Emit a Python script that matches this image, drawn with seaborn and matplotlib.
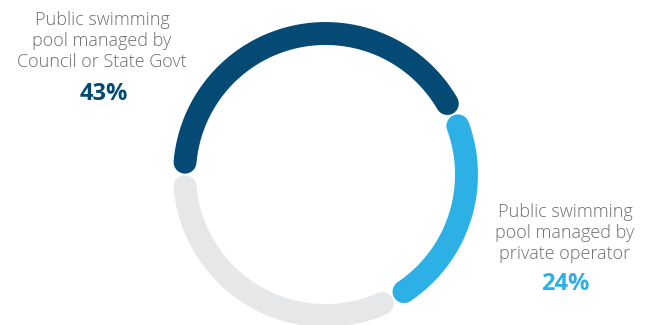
import matplotlib as mpl
mpl.use('agg')
import matplotlib.pyplot as plt
import numpy as np
import pandas as pd
import seaborn as sns

# data
segments = ['Council or State Govt', 'Private operator', 'Other']
shares = [43, 24, 33]
colors = ['#044a74', '#2cb0e5', '#e6e7e8']
labels = ['Public swimming\npool managed by\nCouncil or State Govt',
          'Public swimming\npool managed by\nprivate operator',
          None]

sns.set_theme(style='white')
plt.rcParams['font.family'] = ['Open Sans', 'DejaVu Sans']

fig = plt.figure(figsize=(6.54, 3.25), dpi=100)
ax = fig.add_axes([0, 0, 1, 1])

# ring geometry (pixel units)
cx, cy, r = 325.5, 174.5, 141
gap = 5.0  # degrees trimmed off each end
start = 180.0  # start at 9 o'clock, run clockwise

rows = []
a0 = start
for name, v in zip(segments, shares):
    sweep = v / 100 * 360
    ang = np.radians(np.linspace(a0 - gap, a0 - sweep + gap, 200))
    for t in ang:
        rows.append({'seg': name, 'x': cx + r * np.cos(t), 'y': cy - r * np.sin(t)})
    a0 -= sweep
df = pd.DataFrame(rows)

for name, c in zip(segments, colors):
    sub = df[df['seg'] == name]
    sns.lineplot(data=sub, x='x', y='y', sort=False, estimator=None, color=c,
                 linewidth=16.5, solid_capstyle='round', ax=ax)

# labels
grey = '#6d6e71'
ax.text(102, 41, labels[0], ha='center', va='center', fontsize=13,
        color=grey, linespacing=1.2, fontweight='light')
ax.text(104, 94, f'{shares[0]}%', ha='center', va='center', fontsize=17,
        fontweight='bold', color=colors[0])
ax.text(565, 233, labels[1], ha='center', va='center', fontsize=13,
        color=grey, linespacing=1.2, fontweight='light')
ax.text(565, 284, f'{shares[1]}%', ha='center', va='center', fontsize=17,
        fontweight='bold', color=colors[1])

ax.set_xlim(0, 654)
ax.set_ylim(325, 0)
ax.set_aspect('equal')
ax.axis('off')

plt.savefig('out.png', dpi=100)
